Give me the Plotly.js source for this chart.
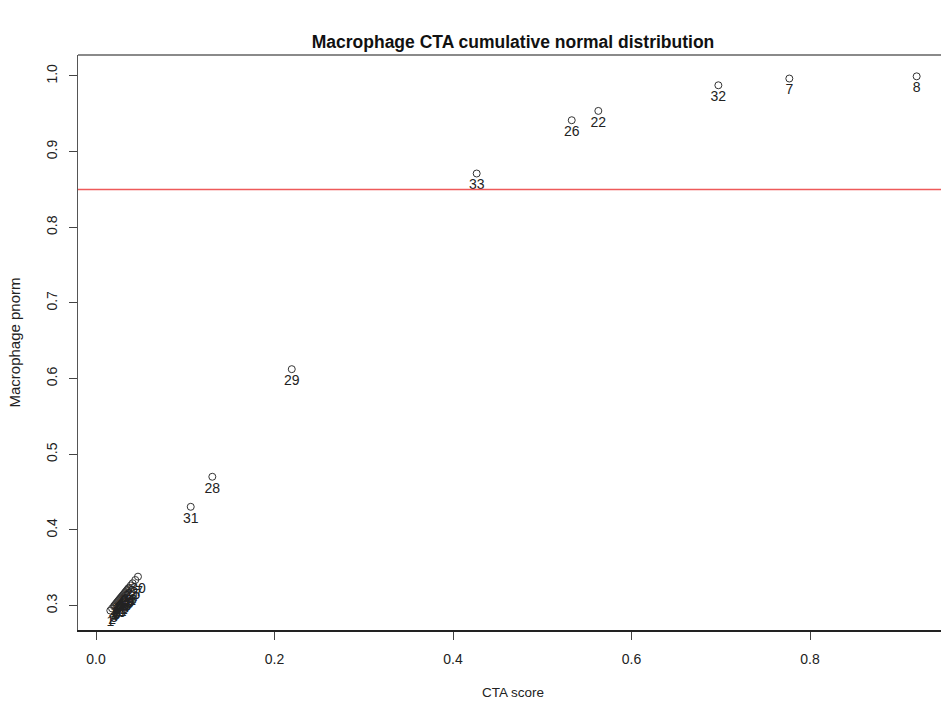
<!DOCTYPE html>
<html>
<head>
<meta charset="utf-8">
<script src="https://cdn.plot.ly/plotly-3.0.1.min.js"></script>
<style>
html,body{margin:0;padding:0;overflow:hidden;background:#fff;}
#chart{width:960px;height:704px;}
</style>
</head>
<body>
<div id="chart"></div>
<script>
// Sample ids (labels drawn under each point)
var sampleIds = ["1","2","3","4","5","6","9","10","11","12","13","14","15","16","17","18","19","20","21","23","24","25","27","30",
                 "31","28","29","33","26","22","32","7","8"];
// CTA score (x)
var ctaScore = [0.016,0.018,0.020,0.021,0.022,0.023,0.024,0.025,0.026,0.027,0.028,0.029,0.030,0.031,0.032,0.033,0.034,0.035,0.036,0.037,0.039,0.041,0.044,0.047,
                0.1061,0.1303,0.2193,0.4265,0.5330,0.5628,0.6973,0.7768,0.9195];
// Macrophage pnorm (y)
var pnormValue = [0.2935,0.2963,0.2992,0.3007,0.3021,0.3036,0.3050,0.3065,0.3079,0.3094,0.3108,0.3123,0.3137,0.3151,0.3166,0.3180,0.3195,0.3209,0.3224,0.3238,0.3267,0.3296,0.3339,0.3383,
                  0.4306,0.4703,0.6125,0.8711,0.9415,0.9538,0.9877,0.9966,0.9995];
var cutoff = 0.85;
var xTicks = [0.0,0.2,0.4,0.6,0.8];
var xTickText = ["0.0","0.2","0.4","0.6","0.8"];
var yTicks = [0.3,0.4,0.5,0.6,0.7,0.8,0.9,1.0];
var yTickText = ["0.3","0.4","0.5","0.6","0.7","0.8","0.9","1.0"];

var font = "Liberation Sans, Arial, Helvetica, sans-serif";

var trace = {
  x: ctaScore, y: pnormValue, text: sampleIds,
  type: "scatter", mode: "markers+text",
  marker: {symbol: "circle-open", size: 7, color: "#333", line: {width: 1, color: "#333"}},
  textposition: "bottom center",
  textfont: {family: font, size: 14, color: "#222"},
  cliponaxis: false,
  hoverinfo: "x+y+text"
};

var layout = {
  width: 960, height: 704,
  paper_bgcolor: "#fff", plot_bgcolor: "#fff",
  margin: {l: 78, r: 12, t: 55, b: 74},
  showlegend: false,
  font: {family: font, size: 14, color: "#222"},
  title: {
    text: "<b>Macrophage CTA cumulative normal distribution</b>",
    font: {family: font, size: 17.5, color: "#111"},
    x: 0.5, xref: "paper", xanchor: "center",
    y: 1 - 42/704, yref: "container", yanchor: "middle"
  },
  xaxis: {
    range: [-0.0202, 0.9546],
    tickvals: xTicks, ticktext: xTickText,
    ticks: "outside", ticklen: 8, tickwidth: 1, tickcolor: "#444",
    ticklabelstandoff: 8,
    showgrid: false, zeroline: false,
    showline: true, linecolor: "#222", linewidth: 1.5, mirror: false,
    tickfont: {family: font, size: 14, color: "#222"},
    title: {text: "CTA score", font: {family: font, size: 13.5, color: "#222"}, standoff: 21}
  },
  yaxis: {
    range: [0.2678, 1.0277],
    tickvals: yTicks, ticktext: yTickText, tickangle: -90,
    ticks: "outside", ticklen: 8, tickwidth: 1, tickcolor: "#444",
    ticklabelstandoff: 6,
    showgrid: false, zeroline: false,
    showline: true, linecolor: "#555", linewidth: 1.5, mirror: true,
    tickfont: {family: font, size: 14, color: "#222"},
    title: {text: "Macrophage pnorm", font: {family: font, size: 15, color: "#222"}, standoff: 19}
  },
  shapes: [
    {type: "line", xref: "paper", yref: "y", x0: 0, x1: 1, y0: cutoff, y1: cutoff,
     line: {color: "#ee5a5a", width: 1.5}},
    {type: "line", xref: "paper", yref: "paper", x0: 0, x1: 1, y0: 1, y1: 1,
     line: {color: "#8a8a8a", width: 2}}
  ]
};

Plotly.newPlot("chart", [trace], layout, {displayModeBar: false, staticPlot: true});
</script>
</body>
</html>
